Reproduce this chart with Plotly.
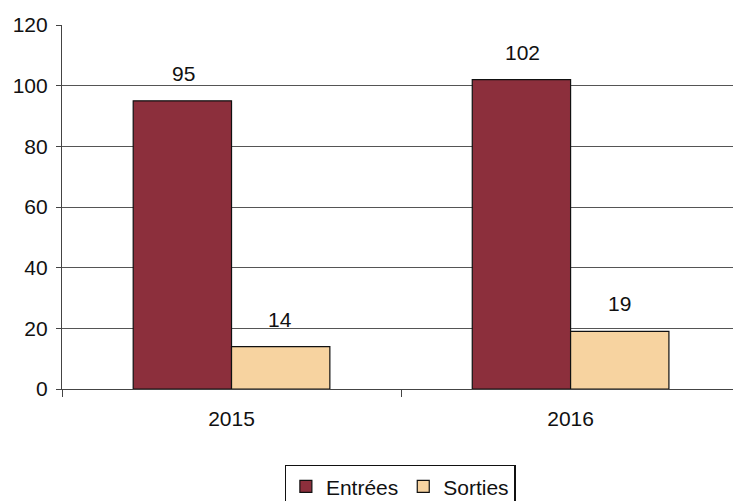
import plotly.graph_objects as go

years = ["2015", "2016"]
entrees = [95, 102]
sorties = [14, 19]
y_ticks = [0, 20, 40, 60, 80, 100, 120]
grid_vals = [20, 40, 60, 80, 100]

FONT = "Liberation Sans, Arial, sans-serif"
FS = 21
C_ENT = "#8C2F3C"
C_SOR = "#F7D3A0"

fig = go.Figure()
fig.add_trace(go.Bar(name="Entrées", x=years, y=entrees,
                     marker=dict(color=C_ENT, line=dict(color="#111", width=1.2))))
fig.add_trace(go.Bar(name="Sorties", x=years, y=sorties,
                     marker=dict(color=C_SOR, line=dict(color="#111", width=1.2))))

for vals, shift in ((entrees, -48.5), (sorties, 48.5)):
    for i, yv in enumerate(vals):
        fig.add_annotation(x=i, y=yv, xref="x", yref="y", text=str(yv), showarrow=False,
                           xshift=shift, yshift=14, yanchor="bottom",
                           font=dict(size=FS, color="#111", family=FONT))

fig.update_layout(
    width=733, height=501,
    margin=dict(l=62, r=0, t=25, b=112, autoexpand=False),
    paper_bgcolor="white", plot_bgcolor="white",
    barmode="group", bargap=0.42, bargroupgap=0,
    font=dict(family=FONT, size=FS, color="#111"),
    xaxis=dict(type="category", range=[-0.5, 1.479], showline=True, linecolor="#444", linewidth=1.2,
               ticks="outside", tickson="boundaries", ticklen=7, tickcolor="#444", showgrid=False,
               tickfont=dict(size=FS), ticklabelstandoff=11),
    yaxis=dict(range=[0, 120], tickvals=y_ticks, showline=True, linecolor="#444", linewidth=1.2,
               ticks="outside", ticklen=5, tickcolor="#444", showgrid=False, zeroline=False,
               tickfont=dict(size=FS), ticklabelstandoff=4,
               minor=dict(tickvals=grid_vals, showgrid=True, gridcolor="#555", gridwidth=1, ticks="")),
    legend=dict(orientation="h", x=0.504, xanchor="center", y=-0.209, yanchor="top",
                bordercolor="#111", borderwidth=1.2, font=dict(size=FS), itemwidth=30),
)

fig.write_html("out.html", config={"displayModeBar": False},
               post_script="document.body.style.margin='0';document.body.style.overflow='hidden';")
